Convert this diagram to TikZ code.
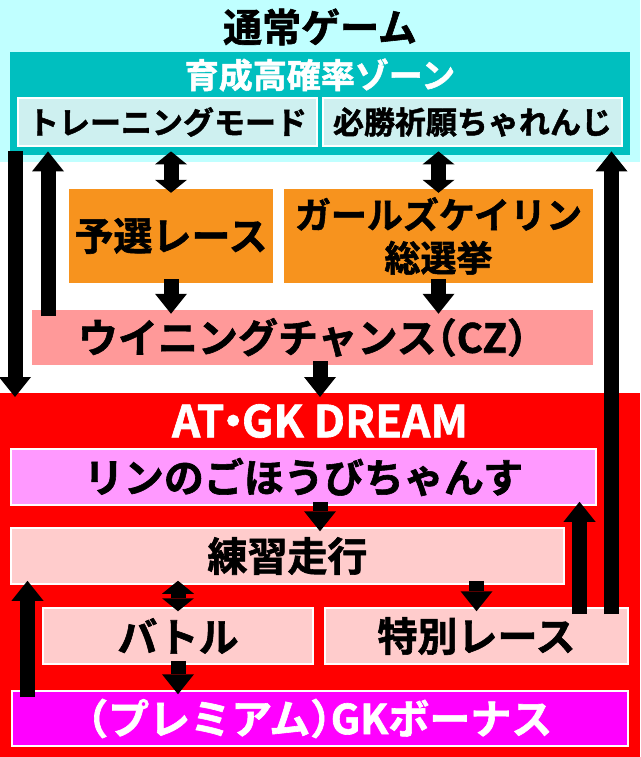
\documentclass[tikz,border=0pt]{standalone}
\usepackage{fontspec}
\setmainfont{Noto Sans CJK JP}[BoldFont={Noto Sans CJK JP Bold},BoldFeatures={FakeBold=1.5}]
\usetikzlibrary{arrows.meta}

\definecolor{skycyan}{RGB}{192,255,255}
\definecolor{zoneteal}{RGB}{0,191,191}
\definecolor{modecyan}{RGB}{206,240,240}
\definecolor{raceorange}{RGB}{247,147,30}
\definecolor{czpink}{RGB}{255,153,153}
\definecolor{rinviolet}{RGB}{255,153,255}
\definecolor{runpink}{RGB}{255,204,204}
\definecolor{gkmagenta}{RGB}{255,0,255}

\begin{document}
\begin{tikzpicture}[x=1pt,y=-1pt,
  txt/.style={font=\bfseries\fontsize{#1}{#1}\selectfont},
  box/.style={draw=white,line width=1.5pt,inner sep=0pt},
  arr/.style={-{Triangle[width=32pt,length=20pt,line width=0pt]},line width=15pt,shorten <=-4pt,shorten >=-4pt},
  darr/.style={{Triangle[width=32pt,length=13pt,line width=0pt]}-{Triangle[width=32pt,length=13pt,line width=0pt]},line width=15pt,shorten <=-4pt,shorten >=-4pt}]
  \useasboundingbox (0,0) rectangle (640,757);
  \fill [skycyan] (0,0) rectangle (640,162);

  \node (normal) [txt=39] at (320,27) {通常ゲーム};
  \node (zone) [fill=zoneteal,minimum width=620pt,minimum height=103pt,inner sep=0pt,anchor=north] at (320,52) {};
  \node (zonetitle) [txt=34,text=white] at (320,75) {育成高確率ゾーン};
  \node (train) [box,fill=modecyan,minimum width=299pt,minimum height=48pt,txt=31] at (167.5,122) {トレーニングモード};
  \node (pray) [box,fill=modecyan,minimum width=299pt,minimum height=48pt,txt=31] at (472.5,122) {必勝祈願ちゃれんじ};

  \node (yosen) [fill=raceorange,minimum width=204pt,minimum height=94pt,inner sep=0pt,txt=39] at (171,236) {予選レース};
  \node (girls) [fill=raceorange,minimum width=309pt,minimum height=94pt,inner sep=0pt,align=center,font=\bfseries\fontsize{36}{43}\selectfont] at (438.5,236) {ガールズケイリン\\総選挙};
  \node (cz) [fill=czpink,minimum width=561pt,minimum height=55pt,inner sep=0pt,txt=40] at (312.5,337.5) {ウイニングチャンス\hspace{-.5em}（CZ）\hspace{-.5em}};

  \node (dream) [fill=red,minimum width=640pt,minimum height=364pt,inner sep=0pt,outer sep=0pt,anchor=north] at (320,393) {};
  \node (dreamtitle) [txt=44,text=white] at (320,421) {AT\hspace{-.3em}・\hspace{-.3em}GK DREAM};
  \node (rin) [box,fill=rinviolet,minimum width=585pt,minimum height=56pt,txt=40] at (303.5,477) {リンのごほうびちゃんす};
  \node (practice) [box,fill=runpink,minimum width=553pt,minimum height=56pt,txt=40] at (287.5,556) {練習走行};
  \node (battle) [box,fill=runpink,minimum width=270pt,minimum height=56pt,txt=40] at (178,636) {バトル};
  \node (special) [box,fill=runpink,minimum width=303pt,minimum height=56pt,txt=40] at (476.5,636) {特別レース};
  \node (bonus) [box,fill=gkmagenta,minimum width=616pt,minimum height=55pt,txt=41,text=white] at (320,718.5) {\hspace{-.5em}（プレミアム）\hspace{-.5em}GKボーナス};

  \coordinate (leftout) at (15,155);
  \coordinate (czback) at (48,312);
  \coordinate (rightback) at (611.5,610);
  \coordinate (specialback) at (579.5,610);
  \coordinate (bonusback) at (27.5,693);

  \draw [darr] (zone.south -| yosen.north) -- (yosen.north);
  \draw [darr] (zone.south -| girls.north) -- (girls.north);
  \draw [arr] (yosen.south) -- (yosen.south |- cz.north);
  \draw [arr] (girls.south) -- (girls.south |- cz.north);
  \draw [arr] (cz.south -| dream.north) -- (dream.north);
  \draw [arr] (leftout) -- (leftout |- dream.north);
  \draw [arr] (czback) -- (czback |- zone.south);
  \draw [arr] (rightback) -- (rightback |- zone.south);

  \draw [arr] (dream.north |- rin.south) -- (dream.north |- practice.north);
  \draw [arr] (specialback) -- (specialback |- rin.south);
  \draw [darr] (battle.north |- practice.south) -- (battle.north);
  \draw [arr] (special.north |- practice.south) -- (special.north);
  \draw [arr] (battle.south) -- (battle.south |- bonus.north);
  \draw [arr] (bonusback) -- (bonusback |- practice.south);
\end{tikzpicture}
\end{document}
